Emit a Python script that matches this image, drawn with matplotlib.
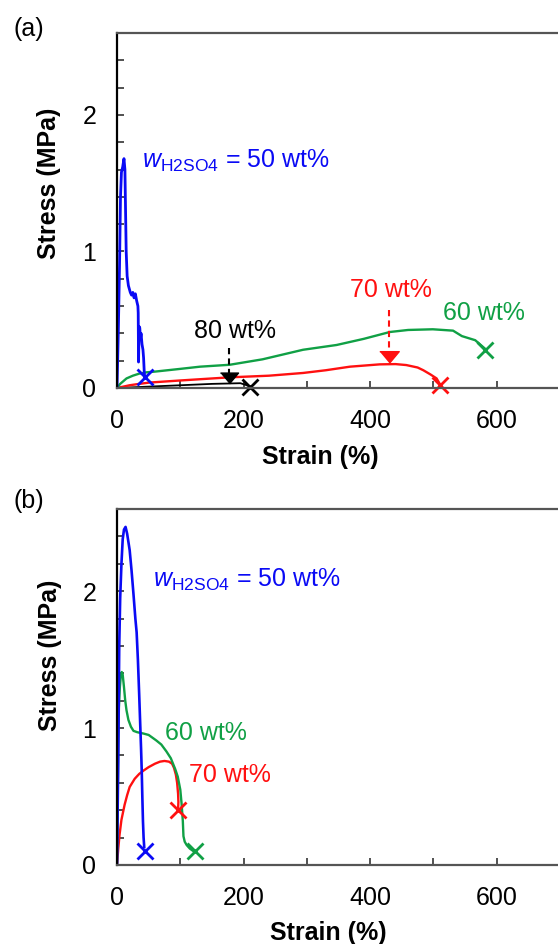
import numpy as np
import matplotlib
matplotlib.use("Agg")
import matplotlib.pyplot as plt
from matplotlib.ticker import MultipleLocator

plt.rcParams['font.family'] = ['Liberation Sans', 'DejaVu Sans']
plt.rcParams['mathtext.fontset'] = 'custom'
plt.rcParams['mathtext.rm'] = 'Liberation Sans'
plt.rcParams['mathtext.it'] = 'Liberation Sans:italic'

BLUE = '#0a0af5'
RED = '#ff1010'
GREEN = '#10a045'

# ---- panel (a): stress-strain curves ----
a50_x = [0, 2, 4, 5.5, 7, 9, 11, 12.5, 13.5, 14.5, 16, 18, 21, 23, 25, 27, 29, 31, 33,
         33.5, 34, 35, 36, 37, 38, 39.5, 41, 42, 43, 44]
a50_y = [0, 0.4, 0.9, 1.4, 1.58, 1.62, 1.68, 1.6, 1.3, 1.0, 0.82, 0.75, 0.70, 0.68, 0.70,
         0.66, 0.69, 0.64, 0.60, 0.55, 0.19, 0.45, 0.44, 0.36, 0.40, 0.32, 0.28, 0.22, 0.12, 0.07]

a60_x = [0, 5, 10, 15, 25, 35, 47, 60, 100, 131, 178, 230, 294, 347, 390, 431, 460, 499,
         531, 538, 545, 566, 581]
a60_y = [0, 0.03, 0.05, 0.07, 0.09, 0.105, 0.115, 0.12, 0.14, 0.156, 0.17, 0.21, 0.28,
         0.315, 0.36, 0.41, 0.425, 0.43, 0.42, 0.40, 0.38, 0.35, 0.29]

a70_x = [0, 10, 20, 35, 52, 100, 178, 240, 294, 330, 368, 415, 440, 457, 475, 484, 495,
         505, 510]
a70_y = [0, 0.01, 0.02, 0.03, 0.04, 0.055, 0.078, 0.09, 0.11, 0.13, 0.156, 0.173, 0.175,
         0.168, 0.15, 0.13, 0.10, 0.07, 0.03]

a80_x = [0, 50, 100, 150, 195, 205, 210]
a80_y = [0, 0.01, 0.02, 0.03, 0.035, 0.02, 0.01]

# break points (x markers)
a_break_x = [45, 581, 510, 210]
a_break_y = [0.08, 0.28, 0.02, 0.01]

# ---- panel (b) ----
b50_x = [0, 2, 3.5, 5, 7, 9, 11, 13.5, 16, 20, 23, 26, 29, 31, 33, 35, 36.5, 38, 39, 40,
         41, 42, 43]
b50_y = [0, 0.8, 1.6, 1.95, 2.2, 2.38, 2.45, 2.47, 2.42, 2.3, 2.15, 1.98, 1.8, 1.7, 1.5,
         1.25, 1.05, 0.85, 0.7, 0.5, 0.32, 0.2, 0.13]

b60_x = [0, 1, 2, 3, 4.5, 6, 7.5, 9, 11, 13, 15, 18, 22, 26, 32, 42, 50, 62, 70, 78, 85,
         92, 96, 100, 102, 104, 105, 107, 110, 115, 121]
b60_y = [0, 0.4, 0.9, 1.15, 1.3, 1.38, 1.41, 1.39, 1.3, 1.2, 1.13, 1.06, 1.01, 0.98, 0.97,
         0.96, 0.95, 0.91, 0.88, 0.83, 0.78, 0.70, 0.645, 0.55, 0.45, 0.32, 0.21, 0.17,
         0.146, 0.12, 0.10]

b70_x = [0, 2, 4, 7, 12, 16, 20, 28, 35, 42, 50, 60, 68, 75, 82, 87, 90, 93, 95, 96.5,
         97, 96.5]
b70_y = [0, 0.12, 0.22, 0.33, 0.44, 0.51, 0.57, 0.63, 0.665, 0.69, 0.715, 0.74, 0.755,
         0.76, 0.755, 0.74, 0.71, 0.66, 0.60, 0.52, 0.46, 0.41]

b_break_x = [45, 123, 97]
b_break_y = [0.10, 0.10, 0.40]

FS = 18

fig = plt.figure(figsize=(5.58, 9.44), dpi=100)
ax_a = fig.add_axes([0.2097, 0.589, 0.7939, 0.376])
ax_b = fig.add_axes([0.2097, 0.0837, 0.7939, 0.377])


def style_axes(ax):
    ax.set_xlim(0, 700)
    ax.set_ylim(0, 2.6)
    ax.xaxis.set_major_locator(MultipleLocator(200))
    ax.xaxis.set_minor_locator(MultipleLocator(100))
    ax.yaxis.set_major_locator(MultipleLocator(1))
    ax.yaxis.set_minor_locator(MultipleLocator(0.2))
    ax.tick_params(which='both', direction='in', length=5, width=1.2, color='#333333',
                   top=False, right=False)
    ax.tick_params(which='major', labelsize=FS, pad=15)
    ax.spines['right'].set_visible(False)
    ax.spines['left'].set_color('black')
    ax.spines['left'].set_linewidth(1.6)
    for s in ('top', 'bottom'):
        ax.spines[s].set_color('#555555')
        ax.spines[s].set_linewidth(1.6)
    ax.set_xlabel('Strain (%)', fontsize=FS, fontweight='bold')
    ax.set_ylabel('Stress (MPa)', fontsize=FS, fontweight='bold')


style_axes(ax_a)
style_axes(ax_b)
ax_a.xaxis.set_label_coords(0.458, -0.162)
ax_a.yaxis.set_label_coords(-0.126, 0.577)
ax_b.xaxis.set_label_coords(0.476, -0.157)
ax_b.yaxis.set_label_coords(-0.124, 0.59)

# panel (a) curves
ax_a.plot(a80_x, a80_y, color='black', lw=1.3)
ax_a.plot(a70_x, a70_y, color=RED, lw=1.7)
ax_a.plot(a60_x, a60_y, color=GREEN, lw=1.7)
ax_a.plot(a50_x, a50_y, color=BLUE, lw=2.0)
for x, y, c in zip(a_break_x, a_break_y, [BLUE, GREEN, RED, 'black']):
    ax_a.plot(x, y, marker='x', ms=12, mew=2, color=c, clip_on=False)

# dashed arrows
head = [(-1, 0.6), (1, 0.6), (0, -0.6)]
ax_a.plot([177, 177], [0.29, 0.11], color='black', lw=1.5, dashes=(3, 2))
ax_a.plot(177, 0.075, marker=head, ms=13, color='black')
ax_a.plot([430, 430], [0.57, 0.27], color=RED, lw=1.5, dashes=(3, 2))
ax_a.plot(430, 0.228, marker=head, ms=14, color=RED)

ax_a.text(39, 1.61, r'$w_{\mathrm{H2SO4}}$ = 50 wt%', color=BLUE, fontsize=FS,
          ha='left', va='baseline')
ax_a.text(186, 0.364, '80 wt%', color='black', fontsize=FS, ha='center', va='baseline')
ax_a.text(433, 0.669, '70 wt%', color=RED, fontsize=FS, ha='center', va='baseline')
ax_a.text(580, 0.498, '60 wt%', color=GREEN, fontsize=FS, ha='center', va='baseline')

# panel (b) curves
ax_b.plot(b70_x, b70_y, color=RED, lw=1.7)
ax_b.plot(b60_x, b60_y, color=GREEN, lw=1.7)
ax_b.plot(b50_x, b50_y, color=BLUE, lw=1.9)
for x, y, c in zip(b_break_x, b_break_y, [BLUE, GREEN, RED]):
    ax_b.plot(x, y, marker='x', ms=12, mew=2, color=c, clip_on=False)

ax_b.text(57.5, 2.03, r'$w_{\mathrm{H2SO4}}$ = 50 wt%', color=BLUE, fontsize=FS,
          ha='left', va='baseline')
ax_b.text(76, 0.91, '60 wt%', color=GREEN, fontsize=FS, ha='left', va='baseline')
ax_b.text(114, 0.605, '70 wt%', color=RED, fontsize=FS, ha='left', va='baseline')

fig.text(0.051, 0.9698, '(a)', fontsize=FS, ha='center', va='center')
fig.text(0.051, 0.469, '(b)', fontsize=FS, ha='center', va='center')

fig.savefig('out.png', dpi=100)
